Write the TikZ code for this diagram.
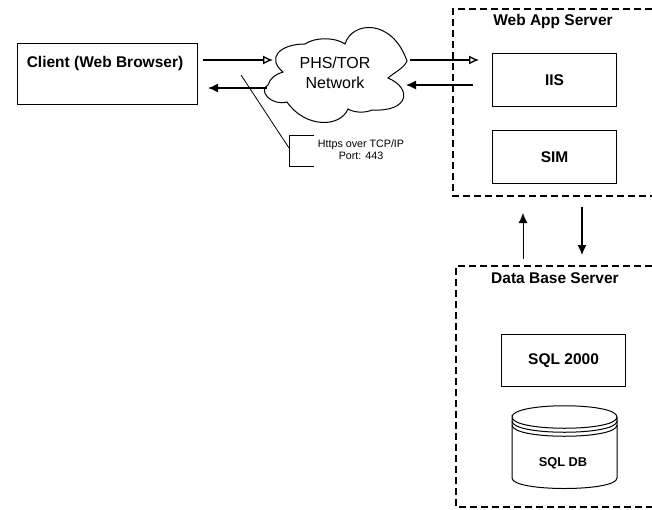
\documentclass[tikz,border=0pt]{standalone}
\usepackage{fontspec}
\setmainfont{Liberation Sans}
\usetikzlibrary{arrows.meta}
\tikzset{
    serverbox/.style={line width=1.3pt, dash pattern=on 7pt off 4pt},
    appbox/.style={draw, line width=1.1pt, anchor=north west},
    boldlabel/.style={font=\bfseries\fontsize{15.5}{18}\selectfont},
    flow/.style={-{Latex[length=10pt,width=9pt]}, line width=1.3pt},
    flowopen/.style={-{Latex[open,length=10pt,width=9pt]}, line width=1.3pt},
}
\begin{document}
\begin{tikzpicture}[x=1pt,y=-1pt]
    \useasboundingbox (0,0) rectangle (652,509);

    % Client
    \node[appbox, minimum width=180pt, minimum height=61pt] (client) at (17,43) {};
    \node[boldlabel] (clientlabel) at (105,63) {Client (Web Browser)};

    % Network cloud
    \draw[line width=1pt] (283,72) .. controls (266,58) and (280,44) .. (305,44)
        .. controls (315,37) and (335,37) .. (345,44)
        .. controls (352,21) and (392,18) .. (407,61)
        .. controls (404,68) and (395,72) .. (388,78)
        .. controls (412,88) and (410,112) .. (372,110)
        .. controls (365,113) and (355,113) .. (348,109)
        .. controls (340,128) and (305,128) .. (287,102)
        .. controls (270,106) and (258,90) .. (268,85)
        .. controls (270,78) and (276,74) .. (283,72) -- cycle;
    \node[align=center, font=\fontsize{16}{20}\selectfont] (network) at (335,73) {PHS/TOR\\Network};

    % Web app server
    \draw[serverbox] (652,9) -- (453,9) -- (453,196) -- (652,196);
    \node[boldlabel] (webtitle) at (553,21) {Web App Server};
    \node[appbox, boldlabel, minimum width=124pt, minimum height=53pt] (iis) at (492,53) {IIS};
    \node[appbox, boldlabel, minimum width=124pt, minimum height=53pt] (sim) at (492,130) {SIM};

    % Data base server
    \draw[serverbox] (652,266) -- (456,266) -- (456,507) -- (652,507);
    \node[boldlabel] (dbtitle) at (555,278) {Data Base Server};
    \node[appbox, boldlabel, minimum width=124pt, minimum height=52pt] (sql) at (501,334) {SQL 2000};

    % Database cylinder
    \draw[line width=1pt] (512,417) .. controls (512,402) and (617,402) .. (617,417)
        .. controls (617,432) and (512,432) .. (512,417) -- (512,478)
        .. controls (512,492) and (617,492) .. (617,478) -- (617,417);
    \foreach \y in {421,425}
        \draw[line width=1pt] (512,\y) .. controls (512,\y+15) and (617,\y+15) .. (617,\y);
    \node[font=\bfseries\fontsize{12.8}{15}\selectfont] (sqldb) at (563,463) {SQL DB};

    % Connector ends
    \coordinate (clientout) at (203,60);
    \coordinate (netin) at (273,60);
    \coordinate (netback) at (267,88);
    \coordinate (clientin) at (208,88);
    \coordinate (netout) at (410,60);
    \coordinate (iisin) at (479,60);
    \coordinate (iisback) at (473,85);
    \coordinate (netreturn) at (406,85);
    \coordinate (dbup) at (523,259);
    \coordinate (webin) at (523,213);
    \coordinate (webout) at (582,207);
    \coordinate (dbin) at (582,255);

    % Arrows
    \draw[flowopen] (clientout) -- (netin);
    \draw[flow] (netback) -- (clientin);
    \draw[flowopen] (netout) -- (iisin);
    \draw[flow] (iisback) -- (netreturn);
    \draw[flow, line width=0.9pt] (dbup) -- (webin);
    \draw[flow] (webout) -- (dbin);

    % Callout
    \node[font=\fontsize{10.7}{12}\selectfont, align=center] (callout) at (361,150) {Https over TCP/IP\\Port: 443};
    \coordinate (linktop) at (241,75);
    \coordinate (linkend) at (289,148);
    \draw[line width=0.8pt] (linktop) -- (linkend);
    \draw[line width=0.8pt] (314,135) -- (289,135) -- (289,166) -- (314,166);
\end{tikzpicture}
\end{document}
